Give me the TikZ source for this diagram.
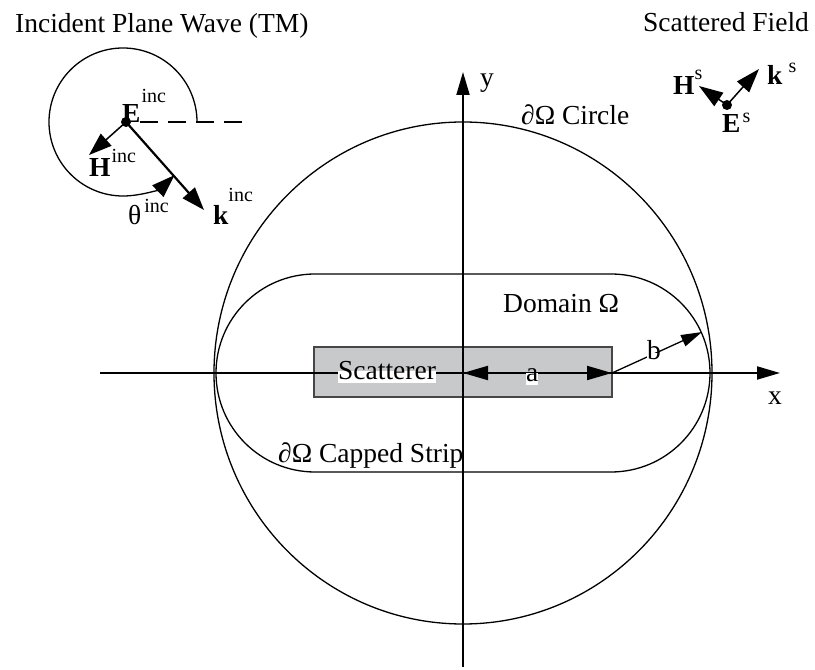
\documentclass[tikz,border=0pt]{standalone}
\usepackage{fontspec}
\setmainfont{Liberation Serif}
\usetikzlibrary{arrows.meta}
\definecolor{scatgray}{RGB}{200,201,203}
\definecolor{edgegray}{RGB}{70,70,70}
\newcommand\upsc[2]{\raisebox{#1}{\fontsize{20}{20}\selectfont #2}}
\begin{document}
\begin{tikzpicture}[x=1pt,y=1pt,
  thinline/.style={line width=1.3pt},
  axisline/.style={line width=2pt},
  lbl/.style={inner sep=0pt, anchor=base west, font=\fontsize{27.5}{33}\selectfont},
  wlbl/.style={lbl, fill=white, text height=0.87em, text depth=0.29em},
  axtip/.tip={Triangle[length=23pt,width=13pt]},
  atip/.tip={Triangle[length=25pt,width=14pt]},
  btip/.tip={Triangle[length=21pt,width=12pt]},
  vtip/.tip={Triangle[length=23pt,width=16pt]},
  stip/.tip={Triangle[length=24pt,width=16pt]}]
\useasboundingbox (0,0) rectangle (815,670);
% coordinates
\coordinate (O) at (463,297);
\coordinate (xL) at (100,297);
\coordinate (xR) at (780,297);
\coordinate (yB) at (463,3);
\coordinate (yT) at (463,598);
\coordinate (Rr) at (612,297);
\coordinate (Bt) at (702,338);
% scatterer
\fill[scatgray] (314,273) rectangle (612,323);
\draw[line width=1.3pt, edgegray] (314,273) rectangle (612,323);
% circle and capped strip
\draw[thinline] (O) ellipse[x radius=249, y radius=251];
\draw[thinline] (315,396) -- (611,396) arc[start angle=90,end angle=-90,radius=99]
  -- (315,198) arc[start angle=270,end angle=90,radius=99] -- cycle;
% axes
\draw[axisline,-axtip] (xL) -- (xR);
\draw[axisline,-axtip] (yB) -- (yT);
% a and b
\draw[axisline,atip-atip] (O) -- (Rr);
\draw[thinline,-btip] (Rr) -- (Bt);
% labels in the main figure
\node[wlbl] (scat) at (338,290) {Scatterer};
\node[wlbl] (alab) at (526,288) {a};
\node[wlbl, text height=0.7em, text depth=0.05em] (blab) at (647,310) {b};
\node[lbl] (xlab) at (768,265) {x};
\node[lbl] (ylab) at (480,583) {y};
\node[lbl] (circ) at (521,545) {∂Ω Circle};
\node[lbl] (dom) at (503,357) {Domain Ω};
\node[lbl] (strip) at (278,207) {∂Ω Capped Strip};
% titles
\node[lbl] (t1) at (15,637) {Incident Plane Wave (TM)};
\node[lbl] (t2) at (643,638) {Scattered Field};
% incident wave
\coordinate (Ei) at (126,548);
\coordinate (arcS) at (197,548);
\coordinate (dS) at (140,548);
\coordinate (dE) at (247,548);
\coordinate (Hi) at (89,515);
\coordinate (Ki) at (204,460);
\draw[thinline,-vtip] (arcS) arc[start angle=0,end angle=314,radius=74];
\draw[thinline, dash pattern=on 18pt off 10pt] (dS) -- (dE);
\draw[line width=1.5pt,-vtip] (Ei) -- (Hi);
\draw[line width=2.2pt,-vtip] (Ei) -- (Ki);
\fill (Ei) circle[radius=5];
\node[lbl] (Elab) at (122,547) {\textbf{E}\hspace{1pt}\upsc{20pt}{inc}};
\node[lbl] (Hlab) at (89,493) {\textbf{H}\hspace{1pt}\upsc{14pt}{inc}};
\node[lbl] (thlab) at (128,445) {θ\hspace{3pt}\upsc{12pt}{inc}};
\node[lbl] (klab) at (213,445) {\textbf{k}\upsc{23pt}{inc}};
% scattered field
\coordinate (Es) at (727,565);
\coordinate (Hs) at (699,584);
\coordinate (Ks) at (759,601);
\draw[line width=1.5pt,-stip] (Es) -- (Hs);
\draw[line width=1.5pt,-stip] (Es) -- (Ks);
\fill (Es) circle[radius=5];
\node[lbl] (Hslab) at (673,575) {\textbf{H}\upsc{15pt}{s}};
\node[lbl] (kslab) at (767,585) {\textbf{k}\hspace{6pt}\upsc{12pt}{s}};
\node[lbl] (Eslab) at (722,537) {\textbf{E}\hspace{2pt}\upsc{10pt}{s}};
\end{tikzpicture}
\end{document}
